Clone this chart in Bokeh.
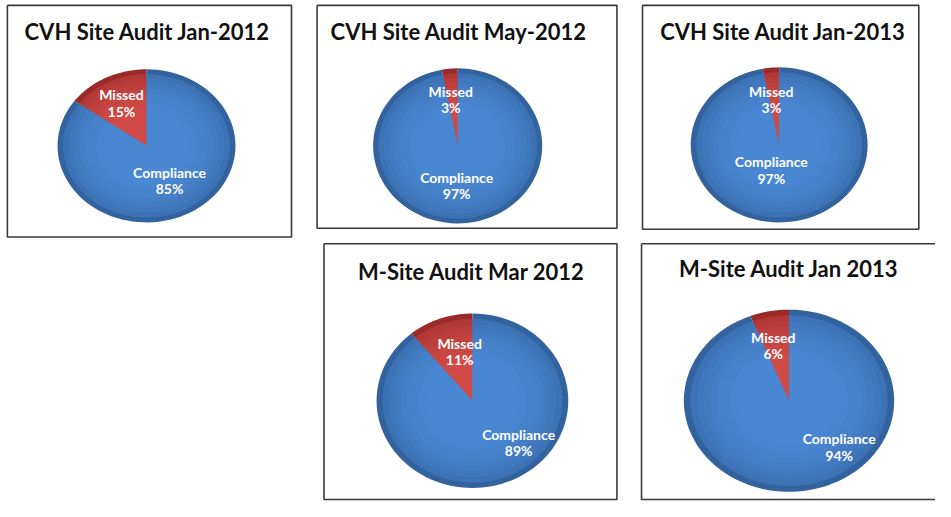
import numpy as np
from bokeh.plotting import figure
from bokeh.models import Range1d, ColumnDataSource
from bokeh.core.properties import value
from bokeh.embed import file_html
from bokeh.resources import INLINE

# ---------------- data ----------------
titles = ["CVH Site Audit Jan-2012", "CVH Site Audit May-2012", "CVH Site Audit Jan-2013",
          "M-Site Audit Mar 2012", "M-Site Audit Jan 2013"]
missed = [15, 3, 3, 11, 6]
compliance = [85, 97, 97, 89, 94]
slice_names = ["Missed", "Compliance"]

# ---------------- layout (reference pixel positions) ----------------
boxes = [(7, 5, 296, 244), (322, 5, 627, 235), (653, 5, 934, 236),
         (329, 251, 627, 515), (652, 251, 960, 515)]
centers = [(148.5, 150), (465, 150), (792, 149), (480, 413), (802, 413)]
radii = [(90.5, 79), (86, 80), (90, 80), (97.5, 90), (107, 94)]
title_pos = [(149.5, 32), (466, 32), (796, 32), (479, 280), (802, 277)]
missed_lab = [(123, 106), (458, 102), (784, 102), (467, 362), (786, 356)]
comp_lab = [(172, 186), (464, 191), (784, 175), (527, 456), (853, 461)]

FONT = "Lato"

p = figure(width=935, height=501, x_range=Range1d(0, 951), y_range=Range1d(517, 0),
           output_backend="svg", toolbar_location=None,
           x_axis_location=None, y_axis_location=None, min_border=0)
p.grid.visible = False
p.outline_line_color = None
p.background_fill_color = "white"


def mix(c1, c2, f):
    a = np.array([int(c1[i:i + 2], 16) for i in (1, 3, 5)], float)
    b = np.array([int(c2[i:i + 2], 16) for i in (1, 3, 5)], float)
    c = a + (b - a) * f
    return "#%02x%02x%02x" % tuple(int(round(v)) for v in c)


def sector(cx, cy, rx, ry, t0, t1, n=90):
    t = np.radians(np.linspace(t0, t1, n))
    xs = np.concatenate([[cx], cx + rx * np.cos(t), [cx]])
    ys = np.concatenate([[cy], cy + ry * np.sin(t), [cy]])
    return list(xs), list(ys)


blue_out, blue_in = "#33639f", "#4a87d3"
red_out, red_in = "#9a2a2a", "#d04a47"

for i in range(5):
    x0, y0, x1, y1 = boxes[i]
    p.line([x0, x1, x1, x0, x0], [y0, y0, y1, y1, y0],
           line_color="#3a3a3a", line_width=1.6)

    cx, cy = centers[i]
    rx, ry = radii[i]
    m_ang = 360.0 * missed[i] / (missed[i] + compliance[i])
    # Missed goes counter-clockwise from 12 o'clock; Compliance fills the rest
    xs_l, ys_l, cols = [], [], []
    layers = np.linspace(1.0, 0.5, 9)
    for k, s in enumerate(layers):
        f = k / (len(layers) - 1)
        xs, ys = sector(cx, cy, rx * s, ry * s, -90 - m_ang, -90)
        xs_l.append(xs); ys_l.append(ys); cols.append(mix(red_out, red_in, f ** 0.4))
        xs, ys = sector(cx, cy, rx * s, ry * s, -90, 270 - m_ang)
        xs_l.append(xs); ys_l.append(ys); cols.append(mix(blue_out, blue_in, f ** 0.4))
    p.patches(xs="xs", ys="ys", fill_color="c", line_color=None,
              source=ColumnDataSource(dict(xs=xs_l, ys=ys_l, c=cols)))

    tx, ty = title_pos[i]
    p.text(x=[tx], y=[ty], text=[titles[i]], text_font=value(FONT), text_font_style="bold",
           text_font_size="22px", text_color="#111111", text_align="center",
           text_baseline="middle")

    for (lx, ly), name, val in ((missed_lab[i], slice_names[0], missed[i]),
                                (comp_lab[i], slice_names[1], compliance[i])):
        p.text(x=[lx, lx], y=[ly - 8.5, ly + 8.5], text=[name, f"{val}%"],
               text_font=value(FONT), text_font_style="bold", text_font_size="14px",
               text_color="white", text_align="center", text_baseline="middle")

open("out.html", "w").write(file_html(p, INLINE))
